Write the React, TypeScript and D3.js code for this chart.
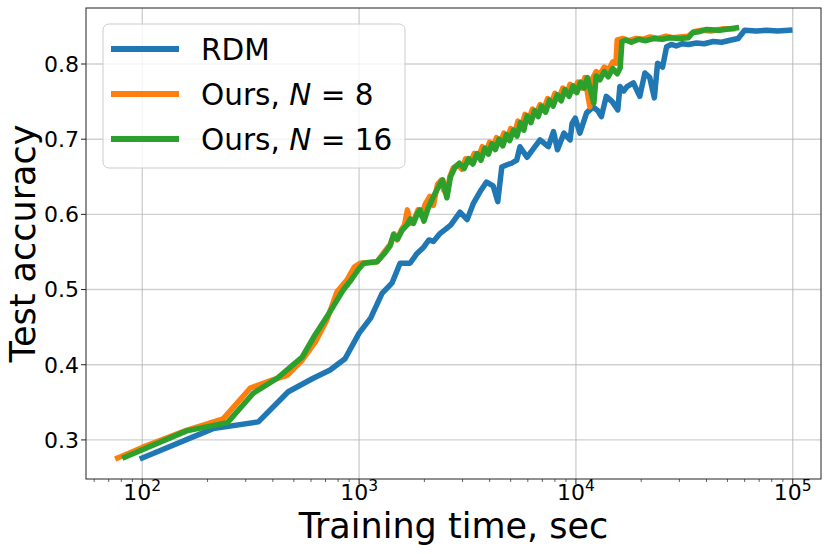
import React, { useEffect, useRef } from 'react';
import * as d3 from 'd3';

// [training time (sec), test accuracy]
const rdm: [number, number][] = [
  [100, 0.276], [212, 0.315], [343, 0.324], [471, 0.364], [614, 0.382], [735, 0.393],
  [861, 0.408], [1000, 0.442], [1130, 0.462], [1276, 0.495], [1420, 0.509], [1545, 0.535],
  [1718, 0.535], [1850, 0.548], [1980, 0.556], [2100, 0.566], [2200, 0.564], [2350, 0.574],
  [2500, 0.580], [2650, 0.586], [2920, 0.603], [3150, 0.593], [3370, 0.615], [3610, 0.630],
  [3870, 0.643], [4150, 0.638], [4360, 0.617], [4550, 0.663], [4810, 0.666], [5050, 0.668],
  [5330, 0.672], [5520, 0.690], [5950, 0.676], [6320, 0.686], [6830, 0.699], [7460, 0.690],
  [7880, 0.710], [8220, 0.686], [8800, 0.708], [9400, 0.699], [9600, 0.721], [9930, 0.728],
  [10430, 0.708], [11200, 0.735], [12000, 0.743], [12600, 0.738], [13100, 0.730], [13800, 0.757],
  [14700, 0.750], [15600, 0.739], [15950, 0.770], [16600, 0.764], [17200, 0.770], [18400, 0.775],
  [19700, 0.757], [20800, 0.788], [21900, 0.782], [23000, 0.755], [23800, 0.801], [25100, 0.796],
  [26200, 0.823], [27500, 0.826], [29000, 0.824], [31000, 0.827], [33000, 0.826], [36000, 0.828],
  [39000, 0.827], [43000, 0.830], [47000, 0.829], [52000, 0.832], [56000, 0.834], [60000, 0.845],
  [68000, 0.844], [76000, 0.845], [85000, 0.844], [96900, 0.845],
];

const oursN8: [number, number][] = [
  [77, 0.276], [100, 0.290], [161, 0.313], [236, 0.328], [315, 0.369], [400, 0.380],
  [466, 0.386], [546, 0.406], [627, 0.430], [711, 0.460], [791, 0.497], [880, 0.513],
  [950, 0.530], [1010, 0.535], [1210, 0.537], [1300, 0.549], [1390, 0.560], [1450, 0.574],
  [1500, 0.566], [1570, 0.580], [1620, 0.586], [1670, 0.606], [1720, 0.588], [1800, 0.594],
  [1870, 0.606], [1940, 0.598], [2020, 0.614], [2120, 0.624], [2200, 0.612], [2300, 0.640],
  [2380, 0.645], [2460, 0.632], [2540, 0.626], [2620, 0.650], [2720, 0.662], [2850, 0.666],
  [2980, 0.660], [3100, 0.674], [3250, 0.669], [3400, 0.681], [3550, 0.676], [3700, 0.690],
  [3850, 0.684], [4000, 0.696], [4150, 0.689], [4300, 0.702], [4480, 0.694], [4650, 0.708],
  [4820, 0.700], [5000, 0.714], [5200, 0.707], [5400, 0.724], [5600, 0.716], [5820, 0.733],
  [6050, 0.726], [6300, 0.740], [6550, 0.733], [6830, 0.746], [7100, 0.740], [7400, 0.754],
  [7700, 0.748], [8000, 0.761], [8350, 0.754], [8700, 0.768], [9050, 0.760], [9400, 0.773],
  [9800, 0.764], [10200, 0.776], [10600, 0.768], [11000, 0.782], [11400, 0.755], [11600, 0.743],
  [11900, 0.780], [12400, 0.790], [12900, 0.786], [13500, 0.796], [14100, 0.792], [14800, 0.803],
  [15300, 0.801], [15500, 0.832], [16500, 0.834], [17500, 0.831], [19000, 0.834], [20500, 0.833],
  [22000, 0.836], [24000, 0.834], [26000, 0.837], [28000, 0.835], [30000, 0.836], [33000, 0.837],
  [35000, 0.843], [38000, 0.845], [42000, 0.844], [48000, 0.847], [53000, 0.847],
];

const oursN16: [number, number][] = [
  [83, 0.277], [100, 0.287], [160, 0.312], [247, 0.323], [325, 0.362], [419, 0.382],
  [546, 0.410], [627, 0.440], [711, 0.464], [843, 0.499], [920, 0.513], [1000, 0.528],
  [1050, 0.535], [1210, 0.537], [1300, 0.547], [1390, 0.558], [1440, 0.573], [1500, 0.567],
  [1580, 0.579], [1665, 0.586], [1720, 0.594], [1780, 0.588], [1850, 0.600], [1910, 0.606],
  [1990, 0.591], [2080, 0.608], [2180, 0.621], [2280, 0.632], [2360, 0.640], [2430, 0.646],
  [2540, 0.622], [2640, 0.650], [2760, 0.662], [2900, 0.668], [3050, 0.661], [3200, 0.674],
  [3350, 0.667], [3500, 0.681], [3650, 0.672], [3800, 0.688], [3950, 0.680], [4100, 0.694],
  [4250, 0.686], [4420, 0.700], [4600, 0.691], [4780, 0.706], [4950, 0.698], [5150, 0.712],
  [5350, 0.704], [5550, 0.722], [5750, 0.712], [5950, 0.731], [6200, 0.722], [6450, 0.738],
  [6700, 0.730], [6950, 0.744], [7250, 0.736], [7550, 0.752], [7850, 0.744], [8200, 0.759],
  [8550, 0.751], [8900, 0.766], [9300, 0.757], [9700, 0.771], [10100, 0.762], [10500, 0.776],
  [10900, 0.768], [11300, 0.782], [11800, 0.760], [12100, 0.748], [12400, 0.784], [12900, 0.779],
  [13500, 0.790], [14100, 0.783], [14800, 0.794], [15500, 0.787], [16000, 0.795], [16300, 0.830],
  [17000, 0.832], [18000, 0.829], [19500, 0.833], [21000, 0.831], [23000, 0.834], [25000, 0.833],
  [27000, 0.835], [30000, 0.834], [33000, 0.835], [34600, 0.842], [37000, 0.843], [40000, 0.846],
  [46000, 0.845], [55000, 0.848],
];

const seriesNames = ['RDM', 'Ours, N = 8', 'Ours, N = 16'];
const seriesColors = ['#1f77b4', '#ff7f0e', '#2ca02c'];
const xTicks = [100, 1000, 10000, 100000];
const yTicks = [0.3, 0.4, 0.5, 0.6, 0.7, 0.8];

const W = 830;
const H = 554;
const M = { left: 86, right: 821, top: 8, bottom: 479 };

export default function App() {
  const svgRef = useRef<SVGSVGElement>(null);

  useEffect(() => {
    if (!svgRef.current) return;
    const svg = d3.select(svgRef.current);
    svg.selectAll('*').remove();
    const font = 'DejaVu Sans, sans-serif';

    const x = d3.scaleLog().domain([55, 135000]).range([M.left, M.right]);
    const y = d3.scaleLinear().domain([0.248, 0.8745]).range([M.bottom, M.top]);

    svg.append('rect').attr('width', W).attr('height', H).attr('fill', '#fff');

    svg.append('clipPath').attr('id', 'plot-clip')
      .append('rect')
      .attr('x', M.left).attr('y', M.top)
      .attr('width', M.right - M.left).attr('height', M.bottom - M.top);

    // grid
    const grid = svg.append('g').attr('stroke', '#b0b0b0').attr('stroke-opacity', 0.6).attr('stroke-width', 1.4);
    xTicks.forEach(t => {
      grid.append('line').attr('x1', x(t)).attr('x2', x(t)).attr('y1', M.top).attr('y2', M.bottom);
    });
    yTicks.forEach(t => {
      grid.append('line').attr('x1', M.left).attr('x2', M.right).attr('y1', y(t)).attr('y2', y(t));
    });

    // lines
    const line = d3.line<[number, number]>().x(d => x(d[0])).y(d => y(d[1]));
    const all = [rdm, oursN8, oursN16];
    const lines = svg.append('g').attr('clip-path', 'url(#plot-clip)');
    all.forEach((data, i) => {
      lines.append('path')
        .attr('d', line(data))
        .attr('fill', 'none')
        .attr('stroke', seriesColors[i])
        .attr('stroke-width', 5.5)
        .attr('stroke-linejoin', 'round')
        .attr('stroke-linecap', 'square');
    });

    // spines
    svg.append('rect')
      .attr('x', M.left).attr('y', M.top)
      .attr('width', M.right - M.left).attr('height', M.bottom - M.top)
      .attr('fill', 'none').attr('stroke', '#222').attr('stroke-width', 1);

    // ticks
    const tickG = svg.append('g').attr('stroke', '#222');
    xTicks.forEach(t => {
      tickG.append('line').attr('x1', x(t)).attr('x2', x(t)).attr('y1', M.bottom).attr('y2', M.bottom + 5).attr('stroke-width', 1);
    });
    const [d0, d1] = x.domain();
    for (let e = Math.floor(Math.log10(d0)); e <= Math.ceil(Math.log10(d1)); e++) {
      for (let k = 2; k <= 9; k++) {
        const v = k * Math.pow(10, e);
        if (v < d0 || v > d1) continue;
        tickG.append('line').attr('x1', x(v)).attr('x2', x(v)).attr('y1', M.bottom).attr('y2', M.bottom + 3).attr('stroke-width', 0.7);
      }
    }
    yTicks.forEach(t => {
      tickG.append('line').attr('x1', M.left - 5).attr('x2', M.left).attr('y1', y(t)).attr('y2', y(t)).attr('stroke-width', 1);
    });

    // tick labels
    xTicks.forEach(t => {
      const txt = svg.append('text')
        .attr('x', x(t)).attr('y', 500)
        .attr('text-anchor', 'middle')
        .attr('font-family', font).attr('font-size', 22).attr('fill', '#000');
      txt.append('tspan').text('10');
      txt.append('tspan').attr('dy', -9).attr('font-size', 15.5).text(String(Math.round(Math.log10(t))));
    });
    yTicks.forEach(t => {
      svg.append('text')
        .attr('x', M.left - 7).attr('y', y(t)).attr('dy', '0.36em')
        .attr('text-anchor', 'end')
        .attr('font-family', font).attr('font-size', 22).attr('fill', '#000')
        .text(t.toFixed(1));
    });

    // axis labels
    svg.append('text')
      .attr('x', (M.left + M.right) / 2).attr('y', 538)
      .attr('text-anchor', 'middle')
      .attr('font-family', font).attr('font-size', 35).attr('fill', '#000')
      .text('Training time, sec');
    svg.append('text')
      .attr('transform', `translate(35, ${(M.top + M.bottom) / 2}) rotate(-90)`)
      .attr('text-anchor', 'middle')
      .attr('font-family', font).attr('font-size', 35).attr('fill', '#000')
      .text('Test accuracy');

    // legend
    const lg = svg.append('g');
    lg.append('rect')
      .attr('x', 103).attr('y', 24).attr('width', 302).attr('height', 144).attr('rx', 6)
      .attr('fill', '#fff').attr('fill-opacity', 0.8)
      .attr('stroke', '#cccccc').attr('stroke-width', 1);
    seriesNames.forEach((name, i) => {
      const cy = 49 + i * 45;
      lg.append('line')
        .attr('x1', 114).attr('x2', 176).attr('y1', cy).attr('y2', cy)
        .attr('stroke', seriesColors[i]).attr('stroke-width', 6).attr('stroke-linecap', 'square');
      const txt = lg.append('text')
        .attr('x', 201).attr('y', cy + 11)
        .attr('font-family', font).attr('font-size', 29.5).attr('fill', '#000');
      const m = name.match(/^(.*?)N = (\d+)$/);
      if (m) {
        txt.append('tspan').text(m[1]);
        txt.append('tspan').attr('font-style', 'italic').text('N');
        txt.append('tspan').text(` = ${m[2]}`);
      } else {
        txt.text(name);
      }
    });
  }, []);

  return (
    <svg
      ref={svgRef}
      width={W}
      height={H}
      style={{ position: 'absolute', left: 0, top: 0, display: 'block' }}
    />
  );
}
